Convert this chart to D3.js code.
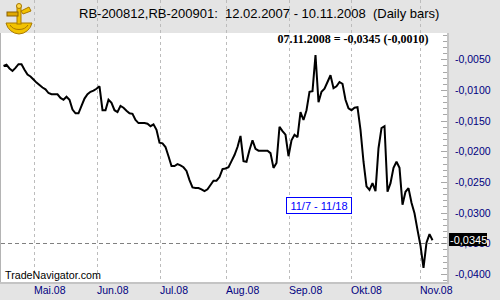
<!DOCTYPE html>
<html>
<head>
<meta charset="utf-8">
<script src="https://cdn.jsdelivr.net/npm/d3@7"></script>
<style>
  html, body { margin: 0; padding: 0; background: #e4e4e4; }
  svg { display: block; }
  text { font-family: "Liberation Sans", Arial, sans-serif; }
</style>
</head>
<body>
<svg id="chart" width="500" height="300"></svg>
<script>
// ---- Data (trading days from 17.04.2008 to 07.11.2008) ----
const values = [
  -0.0061, -0.0059, -0.0065, -0.0069, -0.0064, -0.0058, -0.0058, -0.0067, -0.0075, -0.0078,
  -0.0083, -0.0088, -0.0092, -0.0096, -0.0099, -0.0105, -0.0107, -0.0107, -0.0107, -0.0113,
  -0.0116, -0.0111, -0.0116, -0.0132, -0.0138, -0.0138, -0.0126, -0.0114, -0.0107, -0.0103,
  -0.0101, -0.0098, -0.0094, -0.0133, -0.0133, -0.0116, -0.0121, -0.0133, -0.0136, -0.0126,
  -0.0129, -0.0134, -0.0138, -0.0139, -0.0149, -0.0154, -0.0154, -0.0154, -0.0155, -0.0159,
  -0.0156, -0.0165, -0.0186, -0.0187, -0.0193, -0.0208, -0.0224, -0.0224, -0.0221, -0.0223,
  -0.0226, -0.0232, -0.0247, -0.0259, -0.0260, -0.0260, -0.0262, -0.0265, -0.0262, -0.0255,
  -0.0248, -0.0248, -0.0242, -0.0229, -0.0228, -0.0226, -0.0216, -0.0206, -0.0193, -0.0175,
  -0.0216, -0.0217, -0.0198, -0.0182, -0.0196, -0.0199, -0.0199, -0.0199, -0.0199, -0.0203,
  -0.0227, -0.0219, -0.0160, -0.0167, -0.0173, -0.0208, -0.0182, -0.0173, -0.0177, -0.0136,
  -0.0149, -0.0133, -0.0103, -0.0102, -0.0043, -0.0120, -0.0103, -0.0098, -0.0087, -0.0076,
  -0.0097, -0.0094, -0.0087, -0.0090, -0.0116, -0.0130, -0.0133, -0.0129, -0.0128, -0.0165,
  -0.0217, -0.0257, -0.0263, -0.0252, -0.0265, -0.0195, -0.0162, -0.0159, -0.0266, -0.0252,
  -0.0227, -0.0217, -0.0227, -0.0287, -0.0266, -0.0260, -0.0284, -0.0301, -0.0328, -0.0354,
  -0.0390, -0.0349, -0.0335, -0.0345
];
const monthLabels = ["Mai.08", "Jun.08", "Jul.08", "Aug.08", "Sep.08", "Okt.08", "Nov.08"];
const monthDayIndex = [10, 31, 52, 74, 95, 116, 139];
const yTickValues = [-0.0050, -0.0100, -0.0150, -0.0200, -0.0250, -0.0300, -0.0350, -0.0400];
const lastLabel = "-0,0345";
const refLineValue = -0.0350;
const titleText = "RB-200812,RB-200901:  12.02.2007 - 10.11.2008  (Daily bars)";
const infoText = "07.11.2008 = -0,0345 (-0,0010)";
const boxText = "11/7 - 11/18";

// ---- Layout ----
const svg = d3.select("#chart");
const plot = { left: 1, right: 448, top: 33, bottom: 282 };

const x = d3.scaleLinear().domain([0, values.length - 1]).range([3.5, 432.5]);
const y = d3.scaleLinear().domain([-0.04131, -0.000875]).range([282, 34]);

// background
svg.append("rect").attr("x", 0).attr("y", 0).attr("width", 500).attr("height", 300).attr("fill", "#e4e4e4");
svg.append("rect").attr("x", plot.left).attr("y", plot.top)
  .attr("width", plot.right - plot.left).attr("height", plot.bottom - plot.top).attr("fill", "#ffffff");

// frame lines
svg.append("line").attr("x1", 0.5).attr("x2", 0.5).attr("y1", plot.top).attr("y2", plot.bottom + 1)
  .attr("stroke", "#b4b4b4").attr("stroke-width", 1);
svg.append("line").attr("x1", plot.right).attr("x2", plot.right).attr("y1", plot.top).attr("y2", plot.bottom + 2)
  .attr("stroke", "#c4c4c4").attr("stroke-width", 2);
svg.append("line").attr("x1", 0).attr("x2", plot.right + 1).attr("y1", plot.bottom + 1).attr("y2", plot.bottom + 1)
  .attr("stroke", "#c4c4c4").attr("stroke-width", 2);

// vertical grid (month starts)
svg.append("g").selectAll("line").data(monthDayIndex).join("line")
  .attr("x1", d => Math.round(x(d)) + 0.5).attr("x2", d => Math.round(x(d)) + 0.5)
  .attr("y1", 0).attr("y2", plot.bottom)
  .attr("stroke", "#bcbcbc").attr("stroke-width", 1).attr("stroke-dasharray", "3,3");

// x axis labels
svg.append("g").selectAll("text").data(monthDayIndex).join("text")
  .attr("x", d => Math.round(x(d)))
  .attr("y", 294)
  .attr("font-size", 10.5)
  .attr("fill", "#000080")
  .text((d, i) => monthLabels[i]);

// y axis minor / major ticks
const minorTicks = d3.range(-0.041, -0.0009, 0.001).map(v => Math.round(v * 10000) / 10000);
svg.append("g").selectAll("line").data(minorTicks).join("line")
  .attr("x1", d => (Math.round(d * 1000) % 5 === 0) ? 441 : 443).attr("x2", 447)
  .attr("y1", d => Math.round(y(d)) + 0.5).attr("y2", d => Math.round(y(d)) + 0.5)
  .attr("stroke", "#a8a8a8").attr("stroke-width", 1);

const fmt = v => "-" + d3.format(".4f")(Math.abs(v)).replace(".", ",");
svg.append("g").selectAll("text").data(yTickValues).join("text")
  .attr("x", 455)
  .attr("y", d => y(d) + 4)
  .attr("font-size", 10.5)
  .attr("fill", "#000080")
  .text(fmt);

// reference dashed line
svg.append("line").attr("x1", plot.left).attr("x2", plot.right - 1)
  .attr("y1", Math.round(y(refLineValue)) + 0.5).attr("y2", Math.round(y(refLineValue)) + 0.5)
  .attr("stroke", "#808080").attr("stroke-width", 1).attr("stroke-dasharray", "4,3");

// data line
const line = d3.line().x((d, i) => x(i)).y(d => y(d));
svg.append("path").datum(values)
  .attr("d", line)
  .attr("fill", "none").attr("stroke", "#000000").attr("stroke-width", 2)
  .attr("stroke-linejoin", "miter").attr("stroke-miterlimit", 2);

// last value label
const lastY = y(values[values.length - 1]);
svg.append("rect").attr("x", 449).attr("y", Math.round(lastY) - 7).attr("width", 38).attr("height", 13).attr("fill", "#000000");
svg.append("text").attr("x", 450).attr("y", Math.round(lastY) + 4)
  .attr("font-size", 11).attr("fill", "#ffffff").text(lastLabel);

// annotation box
const bx = x(94) + 0.5, bw = 65;
svg.append("rect").attr("x", Math.round(bx) + 0.5).attr("y", 197.5).attr("width", bw).attr("height", 16)
  .attr("fill", "#ffffff").attr("stroke", "#0000ff").attr("stroke-width", 1);
svg.append("text").attr("x", Math.round(bx) + 0.5 + bw / 2).attr("y", 210)
  .attr("text-anchor", "middle").attr("font-size", 11).attr("fill", "#0000ff").text(boxText);

// info text
svg.append("text").attr("x", 353).attr("y", 43)
  .attr("text-anchor", "middle")
  .style("font-family", "'Liberation Serif', 'Times New Roman', serif")
  .attr("font-weight", "bold").attr("font-size", 12).attr("fill", "#000000").text(infoText);

// watermark
svg.append("text").attr("x", 5).attr("y", 279).attr("font-size", 10.7).attr("fill", "#000000").text("TradeNavigator.com");

// title
svg.append("text").attr("x", 79).attr("y", 17.5).attr("font-size", 13).attr("fill", "#000000")
  .style("white-space", "pre").text(titleText);

// logo (simplified sextant)
const logo = svg.append("g").attr("transform", "translate(4,3)");
logo.append("path").attr("d", "M2,20 L28,20 A14,14 0 0 1 15,31 A14,14 0 0 1 2,20 Z")
  .attr("fill", "#f2c200").attr("stroke", "#a87800").attr("stroke-width", 1);
logo.append("path").attr("d", "M6,22 A10,8 0 0 0 24,22").attr("fill", "none").attr("stroke", "#a87800").attr("stroke-width", 1);
logo.append("rect").attr("x", 13).attr("y", 3).attr("width", 4).attr("height", 18)
  .attr("fill", "#f2c200").attr("stroke", "#a87800").attr("stroke-width", 1);
logo.append("rect").attr("x", 3).attr("y", 9).attr("width", 11).attr("height", 4)
  .attr("fill", "#e0a800").attr("stroke", "#8a6000").attr("stroke-width", 1);
logo.append("circle").attr("cx", 15).attr("cy", 3).attr("r", 2.5).attr("fill", "#ffd84a").attr("stroke", "#a87800");
logo.append("path").attr("d", "M17,8 L25,4 L27,8 L19,11 Z").attr("fill", "#f2c200").attr("stroke", "#a87800").attr("stroke-width", 1);
</script>
</body>
</html>
